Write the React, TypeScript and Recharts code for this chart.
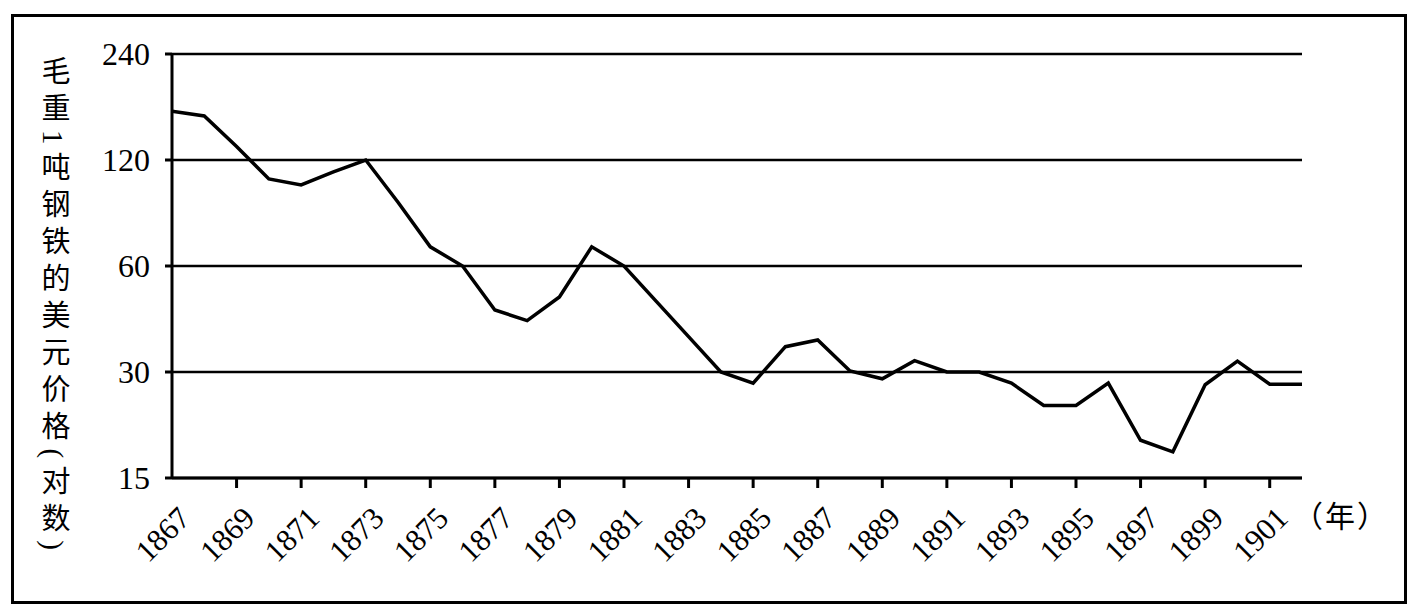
import React from "react";
import { LineChart, Line, XAxis, YAxis, CartesianGrid } from "recharts";

const years = [
  1867, 1868, 1869, 1870, 1871, 1872, 1873, 1874, 1875, 1876, 1877, 1878,
  1879, 1880, 1881, 1882, 1883, 1884, 1885, 1886, 1887, 1888, 1889, 1890,
  1891, 1892, 1893, 1894, 1895, 1896, 1897, 1898, 1899, 1900, 1901, 1902,
];
const prices = [
  165, 160, 131, 106, 102, 111, 120, 91, 68, 60, 45, 42,
  49, 68, 60, 47.6, 37.8, 30, 27.9, 35.4, 37, 30.2, 28.7, 32.3,
  30, 30, 27.9, 24.1, 24.1, 27.9, 19.2, 17.8, 27.6, 32.2, 27.7, 27.7,
];
const yearTicks = [
  1867, 1869, 1871, 1873, 1875, 1877, 1879, 1881, 1883, 1885, 1887, 1889,
  1891, 1893, 1895, 1897, 1899, 1901,
];
const priceTicks = [15, 30, 60, 120, 240];

const data = years.map((year, i) => ({ year, price: prices[i] }));

const SERIF = "'Liberation Serif', 'DejaVu Serif', serif";
const LABEL_FONT = "'Liberation Serif', 'Noto Sans CJK SC', serif";

function YearTick({ x, y, payload }: any) {
  const ax = x + 20;
  const ay = y + 30;
  return (
    <g>
      {payload.value !== 1867 && (
        <line x1={x} y1={y - 12} x2={x} y2={y - 2} stroke="#000" strokeWidth={3} />
      )}
      <text
        x={ax}
        y={ay}
        textAnchor="end"
        fontSize={31}
        fontFamily={SERIF}
        fill="#000"
        transform={`rotate(-45, ${ax}, ${ay})`}
      >
        {payload.value}
      </text>
    </g>
  );
}

function PriceTick({ x, y, payload }: any) {
  return (
    <text x={x} y={y} dy="0.35em" textAnchor="end" fontSize={32} fontFamily={SERIF} fill="#000">
      {payload.value}
    </text>
  );
}

const sideways: React.CSSProperties = { textOrientation: "sideways" };

export default function App() {
  return (
    <div style={{ position: "relative", width: 1420, height: 614, background: "#fff" }}>
      <style>{`body{margin:0}`}</style>
      <div
        style={{
          position: "absolute",
          left: 11,
          top: 14,
          width: 1396,
          height: 590,
          border: "3px solid #000",
          boxSizing: "border-box",
        }}
      />
      <div style={{ position: "absolute", left: 0, top: 0 }}>
        <LineChart width={1420} height={614} data={data} margin={{ top: 54, right: 118, bottom: 76, left: 112 }}>
          <CartesianGrid vertical={false} stroke="#000" strokeWidth={2.5} />
          <XAxis
            dataKey="year"
            type="number"
            domain={[1867, 1902]}
            ticks={yearTicks}
            interval={0}
            height={60}
            tickLine={false}
            tickSize={10}
            tickMargin={2}
            axisLine={{ stroke: "#000", strokeWidth: 3 }}
            tick={<YearTick />}
            allowDataOverflow
          />
          <YAxis
            scale="log"
            domain={[15, 240]}
            ticks={priceTicks}
            interval={0}
            width={60}
            tickSize={7}
            tickMargin={15}
            axisLine={{ stroke: "#000", strokeWidth: 3 }}
            tickLine={{ stroke: "#000", strokeWidth: 3 }}
            tick={<PriceTick />}
            allowDataOverflow
          />
          <Line
            type="linear"
            dataKey="price"
            stroke="#000"
            strokeWidth={3.5}
            dot={false}
            isAnimationActive={false}
          />
        </LineChart>
      </div>
      <div
        style={{
          position: "absolute",
          left: 38,
          top: 56,
          writingMode: "vertical-rl",
          fontSize: 29,
          letterSpacing: 8,
          fontFamily: LABEL_FONT,
          color: "#000",
          lineHeight: 1,
        }}
      >
        毛重<span style={sideways}>1</span>吨钢铁的美元价格<span style={sideways}>(</span>对数<span style={sideways}>)</span>
      </div>
      <div
        style={{
          position: "absolute",
          left: 1293,
          top: 502,
          fontSize: 30,
          fontFamily: LABEL_FONT,
          color: "#000",
          lineHeight: 1,
          letterSpacing: 2,
        }}
      >
        （年）
      </div>
    </div>
  );
}
